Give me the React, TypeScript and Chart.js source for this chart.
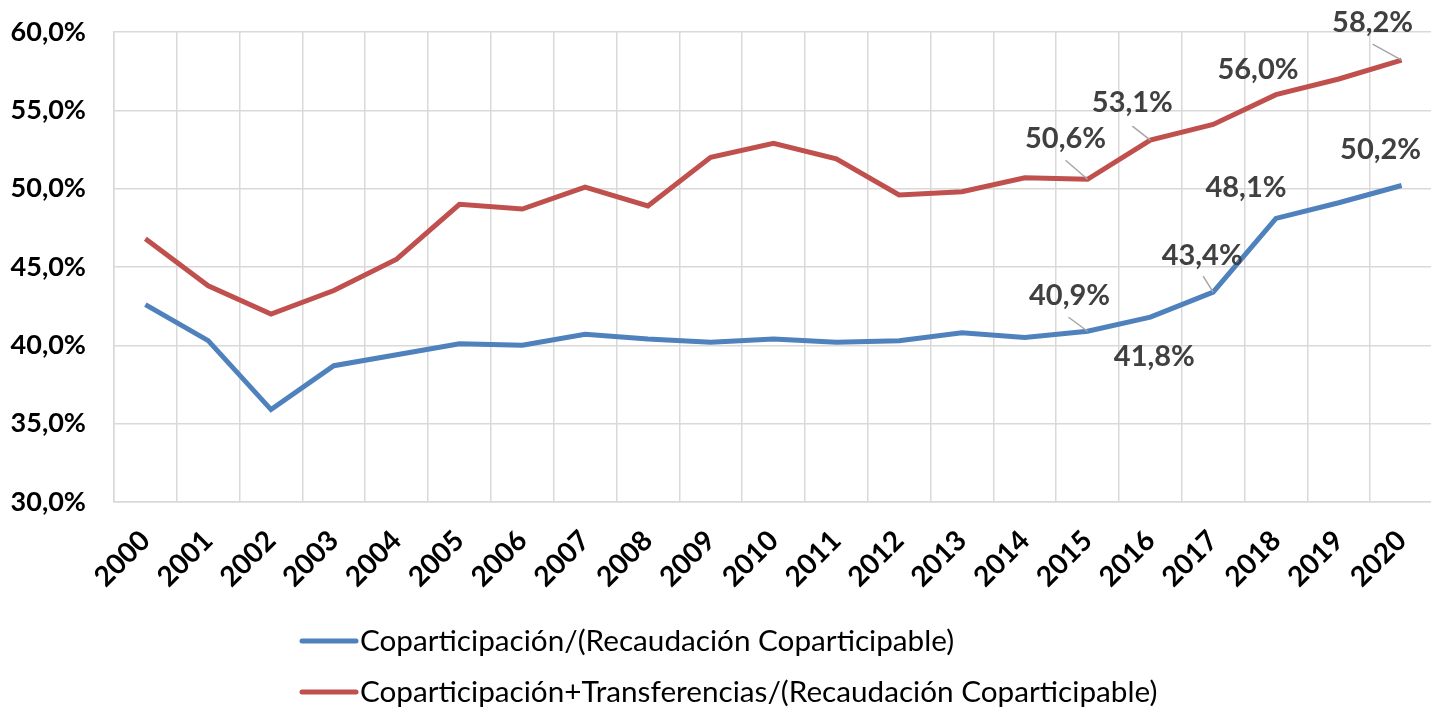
import React, { useEffect, useRef } from "react";
import { Chart, registerables } from "chart.js";

Chart.register(...registerables);

const years = ["2000", "2001", "2002", "2003", "2004", "2005", "2006", "2007", "2008", "2009", "2010", "2011", "2012", "2013", "2014", "2015", "2016", "2017", "2018", "2019", "2020"];
const coparticipacion = [42.6, 40.3, 35.9, 38.7, 39.4, 40.1, 40.0, 40.7, 40.4, 40.2, 40.4, 40.2, 40.3, 40.8, 40.5, 40.9, 41.8, 43.4, 48.1, 49.1, 50.2];
const coparticipacionTransferencias = [46.8, 43.8, 42.0, 43.5, 45.5, 49.0, 48.7, 50.1, 48.9, 52.0, 52.9, 51.9, 49.6, 49.8, 50.7, 50.6, 53.1, 54.1, 56.0, 57.0, 58.2];
const seriesNames = [
  "Coparticipación/(Recaudación Coparticipable)",
  "Coparticipación+Transferencias/(Recaudación Coparticipable)",
];
const seriesColors = ["#4F81BD", "#C0504D"];
const yMin = 30;
const yMax = 60;
const yStep = 5;

// labelled points: dataset index, point index, text offset, optional leader start offset
const labelSpecs = [
  { ds: 0, i: 15, dx: -18, dy: -36, lx: -19, ly: -14 },
  { ds: 0, i: 16, dx: 4, dy: 40 },
  { ds: 0, i: 17, dx: -11, dy: -36, lx: -10, ly: -16 },
  { ds: 0, i: 18, dx: -30, dy: -31 },
  { ds: 0, i: 20, dx: -21, dy: -36 },
  { ds: 1, i: 15, dx: -22, dy: -41, lx: -22, ly: -19 },
  { ds: 1, i: 16, dx: -18, dy: -37, lx: -18, ly: -14 },
  { ds: 1, i: 18, dx: -18, dy: -25 },
  { ds: 1, i: 20, dx: -29, dy: -38, lx: -29, ly: -16 },
];

const fmt = (v: number) => v.toFixed(1).replace(".", ",") + "%";

const labelPlugin = {
  id: "pointLabels",
  afterDatasetsDraw(chart: any) {
    const ctx = chart.ctx;
    ctx.save();
    labelSpecs.forEach((s: any) => {
      const el = chart.getDatasetMeta(s.ds).data[s.i];
      const v = chart.data.datasets[s.ds].data[s.i] as number;
      if (s.lx !== undefined) {
        ctx.strokeStyle = "#A6A6A6";
        ctx.lineWidth = 1.5;
        ctx.beginPath();
        ctx.moveTo(el.x + s.lx, el.y + s.ly);
        ctx.lineTo(el.x, el.y);
        ctx.stroke();
      }
      ctx.fillStyle = "#404040";
      ctx.font = "bold 29px Lato";
      ctx.textAlign = "center";
      ctx.textBaseline = "middle";
      ctx.fillText(fmt(v), el.x + s.dx, el.y + s.dy);
    });
    ctx.restore();
  },
};

const legendPlugin = {
  id: "customLegend",
  afterDraw(chart: any) {
    const ctx = chart.ctx;
    ctx.save();
    const rows = [641, 692];
    chart.data.datasets.forEach((d: any, k: number) => {
      const y = rows[k];
      ctx.strokeStyle = d.borderColor;
      ctx.lineWidth = 5;
      ctx.lineCap = "round";
      ctx.beginPath();
      ctx.moveTo(302, y);
      ctx.lineTo(356, y);
      ctx.stroke();
      ctx.fillStyle = "#000000";
      ctx.font = "29.7px Lato";
      ctx.textAlign = "left";
      ctx.textBaseline = "middle";
      ctx.fillText(d.label, 360, y);
    });
    ctx.restore();
  },
};

export default function App() {
  const ref = useRef<HTMLCanvasElement | null>(null);
  useEffect(() => {
    document.body.style.overflow = "hidden";
    const chart = new Chart(ref.current as HTMLCanvasElement, {
      type: "line",
      data: {
        labels: years,
        datasets: [
          {
            label: seriesNames[0],
            data: coparticipacion,
            borderColor: seriesColors[0],
            backgroundColor: seriesColors[0],
            borderWidth: 5,
            pointRadius: 0,
            tension: 0,
          },
          {
            label: seriesNames[1],
            data: coparticipacionTransferencias,
            borderColor: seriesColors[1],
            backgroundColor: seriesColors[1],
            borderWidth: 5,
            pointRadius: 0,
            tension: 0,
          },
        ],
      },
      options: {
        animation: false,
        responsive: false,
        maintainAspectRatio: false,
        layout: { padding: { top: 32, right: 3, left: 0, bottom: 0 } },
        plugins: {
          legend: { display: false },
          tooltip: { enabled: false },
          title: { display: false },
        },
        scales: {
          x: {
            offset: true,
            grid: { offset: true, color: "#D9D9D9", lineWidth: 1.5, drawTicks: false },
            border: { color: "#D9D9D9", width: 1.5 },
            ticks: {
              color: "#000000",
              font: { family: "Lato", weight: "bold", size: 28 },
              maxRotation: 45,
              minRotation: 45,
              padding: 22,
              autoSkip: false,
            },
            afterFit: (scale: any) => {
              scale.height = 208;
              scale.paddingLeft = 0;
              scale.paddingRight = 0;
              scale.paddingTop = 0;
              scale.paddingBottom = 0;
            },
          },
          y: {
            min: yMin,
            max: yMax,
            grid: { color: "#D9D9D9", lineWidth: 1.5, drawTicks: false },
            border: { color: "#D9D9D9", width: 1.5 },
            ticks: {
              stepSize: yStep,
              color: "#000000",
              font: { family: "Lato", weight: "bold", size: 27 },
              padding: 28,
              callback: (v: any) => fmt(Number(v)),
            },
            afterFit: (scale: any) => {
              scale.width = 114;
              scale.paddingLeft = 0;
              scale.paddingRight = 0;
              scale.paddingTop = 0;
              scale.paddingBottom = 0;
            },
          },
        },
      },
      plugins: [labelPlugin, legendPlugin],
    } as any);
    return () => chart.destroy();
  }, []);
  return (
    <div style={{ position: "fixed", left: 0, top: 0, width: 1436, height: 710 }}>
      <canvas ref={ref} width={1436} height={710} style={{ width: 1436, height: 710 }} />
    </div>
  );
}
